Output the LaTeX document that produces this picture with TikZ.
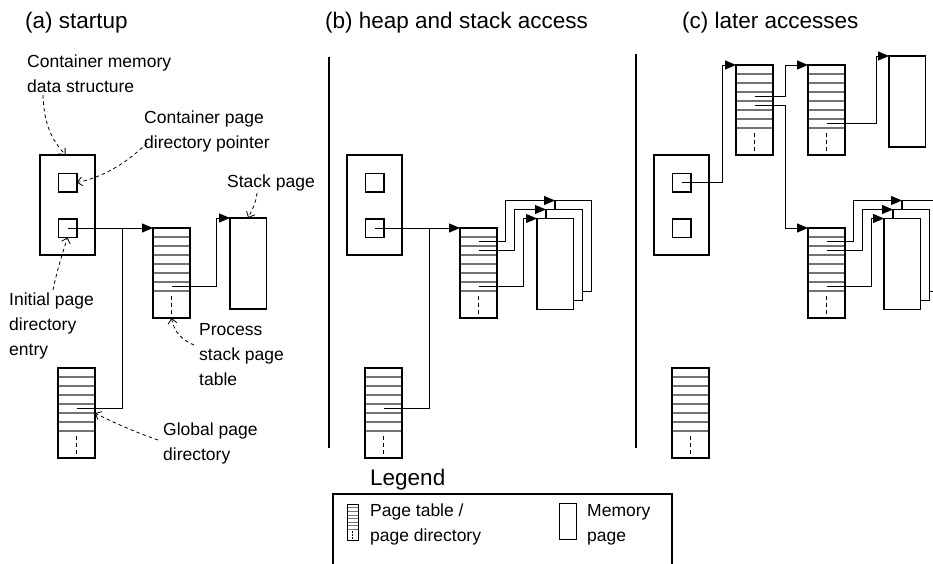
\documentclass[tikz,border=0pt]{standalone}
\usepackage{fontspec}
\setmainfont{Liberation Sans}
\usetikzlibrary{arrows.meta,calc}

% rows of a page table: seven entry lines and a dashed "more entries" mark
\newcommand\ptrows[3]{%
  \foreach \k in {1,...,7}{
    \draw[line width=#1, black!55]
      ($(path picture bounding box.north west)!\k/10!(path picture bounding box.south west)$) --
      ($(path picture bounding box.north east)!\k/10!(path picture bounding box.south east)$);
  }
  \draw[line width=#1, dash pattern=on #2 off #3]
    ($(path picture bounding box.north)!0.755!(path picture bounding box.south)$) --
    ($(path picture bounding box.north)!0.96!(path picture bounding box.south)$);
}

\tikzset{
  border/.style={draw, line width=1.5pt, inner sep=0pt, outer sep=0pt},
  container/.style={border, minimum width=55pt, minimum height=100pt},
  slot/.style={border, minimum size=18.5pt},
  ptable/.style={border, fill=white, minimum width=37pt, minimum height=90pt,
    path picture={\ptrows{1.2pt}{4pt}{3pt}}},
  ptableicon/.style={draw, line width=1pt, inner sep=0pt, minimum width=11pt,
    minimum height=36pt, path picture={\ptrows{0.6pt}{1.5pt}{1.5pt}}},
  mempage/.style={border, fill=white, minimum width=36.5pt, minimum height=91pt},
  memicon/.style={draw, line width=1pt, inner sep=0pt, minimum width=17pt, minimum height=36pt},
  ptr/.style={line width=1pt, -{Triangle[length=11pt,width=9pt]}},
  link/.style={line width=1pt},
  note/.style={line width=0.8pt, dash pattern=on 3.5pt off 3pt,
    -{Straight Barb[length=5pt,width=9pt]}},
  % multi-line labels are placed by the baseline of their last line
  lbl/.style={font=\fontsize{17.5}{25}\selectfont, align=left, anchor=base west, inner sep=0pt},
  ttl/.style={font=\fontsize{22.5}{27}\selectfont, anchor=base west, inner sep=0pt},
  sep/.style={line width=1.5pt},
}

\begin{document}
\begin{tikzpicture}[x=1pt, y=-1pt]
\useasboundingbox (0,0) rectangle (933,563);
\clip (0,0) rectangle (933,563);

% titles
\node[ttl] (ta) at (25,28) {(a) startup};
\node[ttl] (tb) at (325,28) {(b) heap and stack access};
\node[ttl] (tc) at (682,28) {(c) later accesses};

% panel separators
\draw[sep] (329,57) -- (329,448);
\draw[sep] (636,54) -- (636,448);

% ---------- (a) startup ----------
\node[container] (ca) at (67.5,205) {};
\node[slot] (sa1) at (67.5,182.5) {};
\node[slot] (sa2) at (67.5,228) {};
\node[ptable] (pta) at (171.5,273) {};
\node[ptable] (gda) at (76.5,413) {};
\node[mempage] (pga) at (248.25,263.5) {};

\coordinate (pta-e7) at ($(pta.north)+(0,58.5)$);
\coordinate (gda-e5) at ($(gda.north)+(0,40.5)$);
\coordinate (ja) at (122,228);

\draw[ptr] (sa2.center) -- (pta.north west);
\draw[link] (gda-e5) -| (ja);
\draw[ptr] (pta-e7) -| ($(pga.north west)+(-14,0)$) -- (pga.north west);

% labels and their pointers
\node[lbl] (lcm) at (27,92) {Container memory\\data structure};
\node[lbl] (lcp) at (144,148) {Container page\\directory pointer};
\node[lbl] (lsp) at (227,187) {Stack page};
\node[lbl] (lip) at (9,355) {Initial page\\directory\\entry};
\node[lbl] (lps) at (199,385) {Process\\stack page\\table};
\node[lbl] (lgp) at (163,460) {Global page\\directory};

\coordinate (ncm) at (43,95);
\coordinate (ncp) at (147,143);
\coordinate (nsp) at (257,193);
\coordinate (nip) at (53,290);
\coordinate (nps) at (194,345);
\coordinate (ngp) at (158,440);

\draw[note] (ncm) .. controls (44,125) and (52,140) .. ($(ca.north)+(-2,0)$);
\draw[note] (ncp) .. controls (125,165) and (100,178) .. (sa1.east);
\draw[note] (nsp) .. controls (256,203) and (252,210) .. (pga.north);
\draw[note] (nip) .. controls (57,270) and (63,252) .. (sa2.south);
\draw[note] (nps) .. controls (182,340) and (174,332) .. (pta.south);
\draw[note] (ngp) .. controls (135,432) and (112,422) .. (gda.east);

% ---------- (b) heap and stack access ----------
\node[container] (cb) at (374.5,205) {};
\node[slot] (sb1) at (374.5,182.5) {};
\node[slot] (sb2) at (374.5,228) {};
\node[ptable] (ptb) at (478.5,273) {};
\node[ptable] (gdb) at (383.5,413) {};
\node[mempage] (pgb3) at (573.25,246) {};
\node[mempage] (pgb2) at (564.25,255) {};
\node[mempage] (pgb1) at (555.25,264) {};

\coordinate (ptb-e2) at ($(ptb.north)+(0,13.5)$);
\coordinate (ptb-e3) at ($(ptb.north)+(0,22.5)$);
\coordinate (ptb-e7) at ($(ptb.north)+(0,58.5)$);
\coordinate (gdb-e5) at ($(gdb.north)+(0,40.5)$);
\coordinate (jb) at (429,228);

\draw[ptr] (sb2.center) -- (ptb.north west);
\draw[link] (gdb-e5) -| (jb);
\draw[ptr] (ptb-e2) -| ($(pgb3.north west)+(-50,0)$) -- (pgb3.north west);
\draw[ptr] (ptb-e3) -| ($(pgb2.north west)+(-32,0)$) -- (pgb2.north west);
\draw[ptr] (ptb-e7) -| ($(pgb1.north west)+(-14,0)$) -- (pgb1.north west);

% ---------- (c) later accesses ----------
\node[container] (cc) at (681.5,205) {};
\node[slot] (sc1) at (681.5,182.5) {};
\node[slot] (sc2) at (681.5,228) {};
\node[ptable] (gdc) at (690.5,413) {};
\node[ptable] (dc) at (754.5,110) {};
\node[ptable] (tc1) at (826.5,110) {};
\node[ptable] (tc2) at (826.5,273) {};
\node[mempage] (pc0) at (907.25,101.5) {};
\node[mempage] (pc3) at (920.25,246) {};
\node[mempage] (pc2) at (911.25,255) {};
\node[mempage] (pc1) at (902.25,264) {};

\coordinate (dc-e4) at ($(dc.north)+(0,31.5)$);
\coordinate (dc-e5) at ($(dc.north)+(0,40.5)$);
\coordinate (tc1-e7) at ($(tc1.north)+(0,58.5)$);
\coordinate (tc2-e2) at ($(tc2.north)+(0,13.5)$);
\coordinate (tc2-e3) at ($(tc2.north)+(0,22.5)$);
\coordinate (tc2-e7) at ($(tc2.north)+(0,58.5)$);

\draw[ptr] (sc1.center) -| ($(dc.north west)+(-14,0)$) -- (dc.north west);
\draw[ptr] (dc-e4) -| ($(tc1.north west)+(-23,0)$) -- (tc1.north west);
\draw[ptr] (dc-e5) -| ($(tc2.north west)+(-23,0)$) -- (tc2.north west);
\draw[ptr] (tc1-e7) -| ($(pc0.north west)+(-13,0)$) -- (pc0.north west);
\draw[ptr] (tc2-e2) -| ($(pc3.north west)+(-49,0)$) -- (pc3.north west);
\draw[ptr] (tc2-e3) -| ($(pc2.north west)+(-31,0)$) -- (pc2.north west);
\draw[ptr] (tc2-e7) -| ($(pc1.north west)+(-13,0)$) -- (pc1.north west);

% ---------- legend ----------
\node[ttl] (lg) at (370,485) {Legend};
\draw[sep] (333,570) -- (333,494) -- (672,494) -- (672,570);
\node[ptableicon] (lgpt) at (352.5,522) {};
\node[lbl] (lgptl) at (370,541) {Page table /\\page directory};
\node[memicon] (lgmp) at (567.5,521) {};
\node[lbl] (lgmpl) at (587,541) {Memory\\page};
\end{tikzpicture}
\end{document}
